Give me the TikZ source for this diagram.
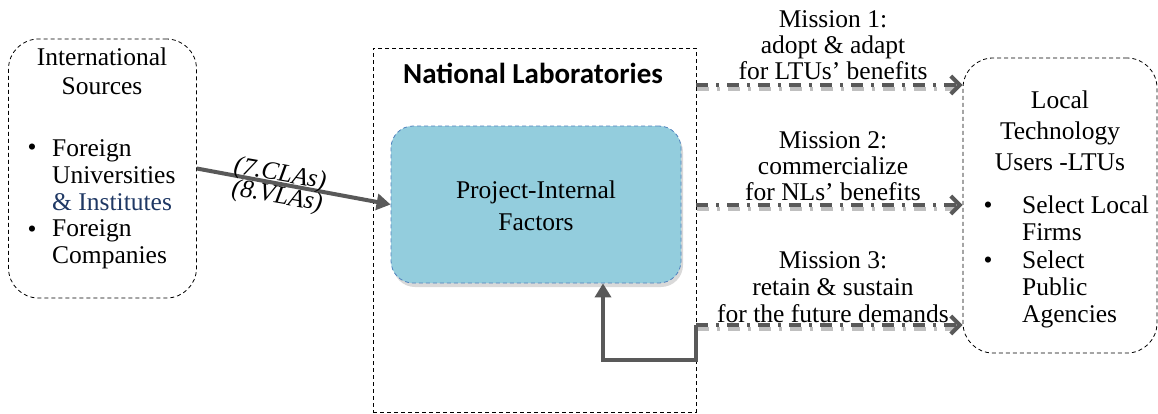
\documentclass[tikz,border=0pt]{standalone}
\usepackage{fontspec}
\setmainfont{Liberation Serif}
\newfontfamily\calibri{Carlito}
\usetikzlibrary{arrows.meta,shadows,calc}
\definecolor{arrowgray}{HTML}{595959}
\definecolor{innerfill}{HTML}{93CDDD}
\definecolor{innerline}{HTML}{4F81BD}
\definecolor{instblue}{HTML}{1F3864}
\tikzset{
  txt/.style={inner sep=0pt, font=\fontsize{25.5}{27}\selectfont},
  frame/.style={draw=black, dashed, line width=0.8pt, dash pattern=on 4pt off 3pt},
  solidarrow/.style={draw=arrowgray, line width=4pt, -{Triangle[length=14pt,width=16pt]}},
  missionarrow/.style={draw=arrowgray, line width=4pt, dash pattern=on 12pt off 8pt on 3pt off 8pt, -{Straight Barb[length=9pt,width=18pt,line width=4pt]}},
  missionshadow/.style={draw=black!25, line width=4pt, dash pattern=on 12pt off 8pt on 3pt off 8pt},
}
\begin{document}
\begin{tikzpicture}[x=1pt,y=-1pt]
\useasboundingbox (0,0) rectangle (1158,413);

% Left box
\node[frame, rounded corners=30pt, minimum width=188pt, minimum height=259pt] (src) at (102.5,168.5) {};
\node[txt, anchor=base, align=center, font=\fontsize{25.5}{29}\selectfont] (srct) at (102,94) {International\\Sources};
\node[txt, anchor=base] (b1) at (32,155) {\textbullet};
\node[txt, anchor=base west, align=left] (b1t) at (52,210) {Foreign\\Universities\\{\color{instblue}\& Institutes}};
\node[txt, anchor=base] (b2) at (32,237) {\textbullet};
\node[txt, anchor=base west, align=left] (b2t) at (52,263) {Foreign\\Companies};

% National laboratories
\node[frame, minimum width=323pt, minimum height=364pt] (nl) at (534.5,230) {};
\node[inner sep=0pt, anchor=base, font=\calibri\bfseries\fontsize{29}{32}\selectfont] (nlt) at (533,83) {National Laboratories};
\node[draw=innerline, dashed, dash pattern=on 4pt off 3pt, line width=0.8pt, fill=innerfill, rounded corners=22pt,
      minimum width=290pt, minimum height=157pt,
      drop shadow={shadow xshift=2pt, shadow yshift=-4pt, opacity=0.3}] (inner) at (536,204.5) {};
\node[txt, anchor=base, align=center, font=\fontsize{25.5}{32}\selectfont] (innert) at (536,230) {Project-Internal\\Factors};

% Local box
\node[frame, rounded corners=30pt, minimum width=194pt, minimum height=295pt] (ltu) at (1060,205.5) {};
\node[txt, anchor=base, align=center, font=\fontsize{25.5}{31}\selectfont] (ltut) at (1060,170) {Local\\Technology\\Users -LTUs};
\node[txt, anchor=base] (b3) at (988,213) {\textbullet};
\node[txt, anchor=base west, align=left] (b3t) at (1022,240) {Select Local\\Firms};
\node[txt, anchor=base] (b4) at (988,268) {\textbullet};
\node[txt, anchor=base west, align=left] (b4t) at (1022,322) {Select\\Public\\Agencies};

% input arrow
\draw[solidarrow] (src.east) -- (inner.west);
\node[txt, anchor=center, rotate=-10, font=\itshape\fontsize{25.5}{27}\selectfont] (cla) at (280,175) {(7.CLAs)};
\node[txt, anchor=center, rotate=-10, font=\itshape\fontsize{25.5}{27}\selectfont] (vla) at (277,197) {(8.VLAs)};

% missions
\coordinate (m1) at (696,85);
\coordinate (m2) at (696,205);
\coordinate (m3) at (696,325);
\foreach \m in {m1,m2,m3}{
  \draw[missionshadow] ($(nl.east |- \m)+(1,4)$) -- ($(ltu.west |- \m)+(-8,4)$);
}
\draw[missionarrow] (nl.east |- m1) -- (ltu.west |- m1);
\draw[missionarrow] (nl.east |- m2) -- (ltu.west |- m2);
\draw[missionarrow] (nl.east |- m3) -- (ltu.west |- m3);

\node[txt, anchor=base, align=center, font=\fontsize{25.5}{26}\selectfont] (mi1) at (833,79) {Mission 1:\\adopt \& adapt\\for LTUs’ benefits};
\node[txt, anchor=base, align=center, font=\fontsize{25.5}{26}\selectfont] (mi2) at (833,200) {Mission 2:\\commercialize\\for NLs’ benefits};
\node[txt, anchor=base, align=center, font=\fontsize{25.5}{27}\selectfont] (mi3) at (833,322) {Mission 3:\\retain \& sustain\\for the future demands};

% feedback
\coordinate (fbx) at (603,360);
\draw[draw=arrowgray, line width=4pt, -{Triangle[length=14pt,width=16pt]}] (nl.east |- m3) -- (nl.east |- fbx) -- (fbx) -- (inner.south -| fbx);
\end{tikzpicture}
\end{document}
